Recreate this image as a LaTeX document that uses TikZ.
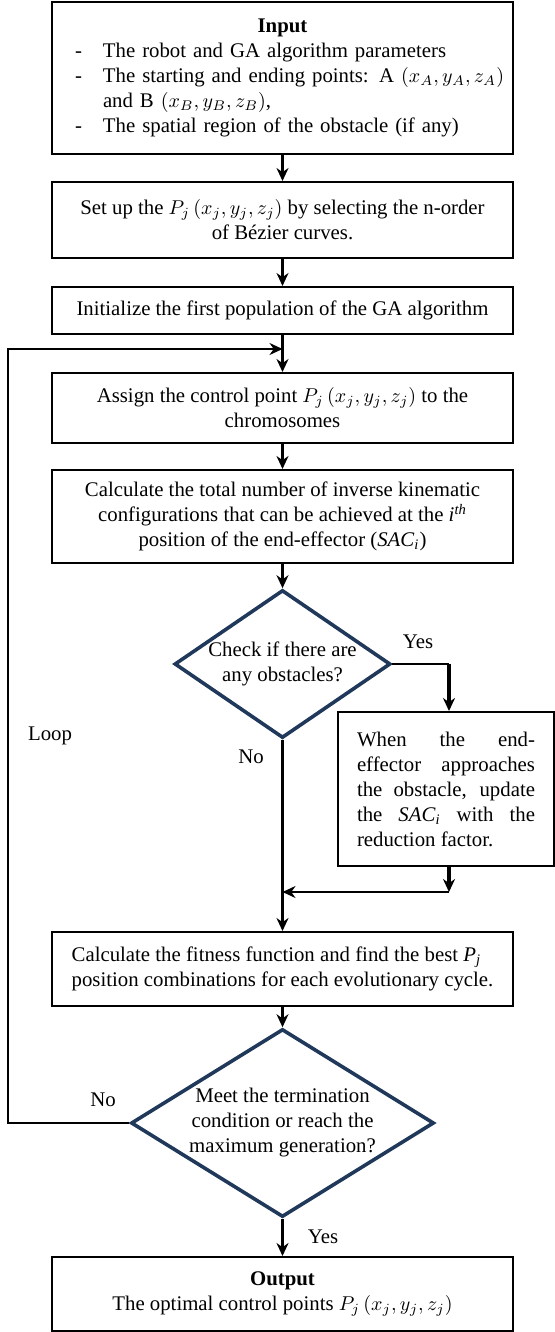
\documentclass[tikz,border=0pt]{standalone}
\usepackage{fontspec}
\setmainfont{Liberation Serif}
\usetikzlibrary{shapes.geometric, arrows.meta}

\definecolor{decnavy}{RGB}{32,56,90}
\newcommand{\flowfont}{\fontsize{10.4}{12.5}\selectfont}
\newcommand{\pj}{$P_j\left(x_j, y_j, z_j\right)$}
\newcommand{\sac}{\textit{SAC}\textsubscript{\textit{i}}}
\newcommand{\dashitem}[1]{\par\leftskip=25.5pt\noindent\hspace*{-14pt}\makebox[14pt][l]{-}#1}

\tikzstyle{process} = [rectangle, draw=black, line width=1pt, minimum width=230.5pt, align=center, font=\flowfont]
\tikzstyle{decision} = [diamond, draw=decnavy, line width=1.8pt, inner sep=-3pt, align=center, font=\flowfont]
\tikzstyle{arrow} = [line width=1.6pt,->,>={Stealth[length=6.5pt,width=6pt]}]
\tikzstyle{thinarrow} = [line width=1pt,->,>={Stealth[length=6.5pt,width=6pt]}]
\tikzstyle{thinline} = [line width=1pt]
\tikzstyle{lbl} = [font=\flowfont]

\begin{document}
\begin{tikzpicture}[x=0.5pt,y=-0.5pt]
\useasboundingbox (0,0) rectangle (555,1332);

% main column
\node[process, text width=230.5pt, minimum height=76pt, inner sep=0pt, align=left] (in) at (282.5,78) {%
  {\centering\textbf{Input}\par}
  \raggedright
  \dashitem{\mbox{The robot and GA algorithm parameters}}
  \dashitem{\mbox{The starting and ending points: A $(x_A, y_A, z_A)$}\\ \mbox{and B $(x_B, y_B, z_B)$,}}
  \dashitem{\mbox{The spatial region of the obstacle (if any)}}\par};
\node[process, minimum height=38pt] (setup) at (282.5,220) {Set up the \pj{} by selecting the n-order\\ of Bézier curves.};
\node[process, minimum height=23.5pt] (init) at (282.5,310.5) {Initialize the first population of the GA algorithm};
\node[process, minimum height=35pt] (assign) at (282.5,408) {Assign the control point \pj{} to the\\ chromosomes};
\node[process, minimum height=46.5pt] (calc) at (282.5,516.5) {Calculate the total number of inverse kinematic\\ configurations that can be achieved at the \textit{i}\textsuperscript{\textit{th}}\\ position of the end-effector (\sac)};
\node[decision, aspect=1.46, minimum width=108pt, minimum height=74pt] (check) at (282.5,664) {Check if there are\\ any obstacles?};
\node[process, minimum width=108pt, text width=89pt, minimum height=77pt, align=justify] (upd) at (446,789) {When the end-\linebreak effector approaches\linebreak the obstacle, update\linebreak the \sac{} with the\linebreak reduction factor.};
\node[process, minimum height=37pt, align=left] (fit) at (282.5,969) {Calculate the fitness function and find the best \textit{P}\textsubscript{\textit{j}}\\ position combinations for each evolutionary cycle.};
\node[decision, aspect=1.61, minimum width=151.5pt, minimum height=94pt] (term) at (282.5,1123) {Meet the termination\\ condition or reach the\\ maximum generation?};
\node[process, minimum height=37pt] (out) at (282.5,1294) {\textbf{Output}\\ The optimal control points \pj};

% corners of the side paths
\coordinate (yesturn) at (449,664);
\coordinate (backturn) at (449,892);
\coordinate (loopbot) at (8,1123);
\coordinate (looptop) at (8,349);
\coordinate (loopin) at (282.5,349);

\draw[arrow] (in) -- (setup);
\draw[arrow] (setup) -- (init);
\draw[arrow] (init) -- (assign);
\draw[arrow] (assign) -- (calc);
\draw[arrow] (calc) -- (check);
\draw[arrow] (check) -- (fit);
\draw[arrow] (fit) -- (term);
\draw[arrow] (term) -- (out);

% obstacle branch
\draw[thinline] (check.east) -- (yesturn);
\draw[arrow] (yesturn) -- (yesturn |- upd.north);
\draw[arrow] (backturn |- upd.south) -- (backturn);
\draw[thinarrow] (backturn) -- (backturn -| check.south);

% loop back
\draw[thinarrow] (term.west) -- (loopbot) -- (looptop) -- (loopin);

\node[lbl] (yes1) at (418,642) {Yes};
\node[lbl] (no1) at (251,757) {No};
\node[lbl] (looplbl) at (50,736) {Loop};
\node[lbl] (no2) at (103,1100) {No};
\node[lbl] (yes2) at (323,1237) {Yes};
\end{tikzpicture}
\end{document}
